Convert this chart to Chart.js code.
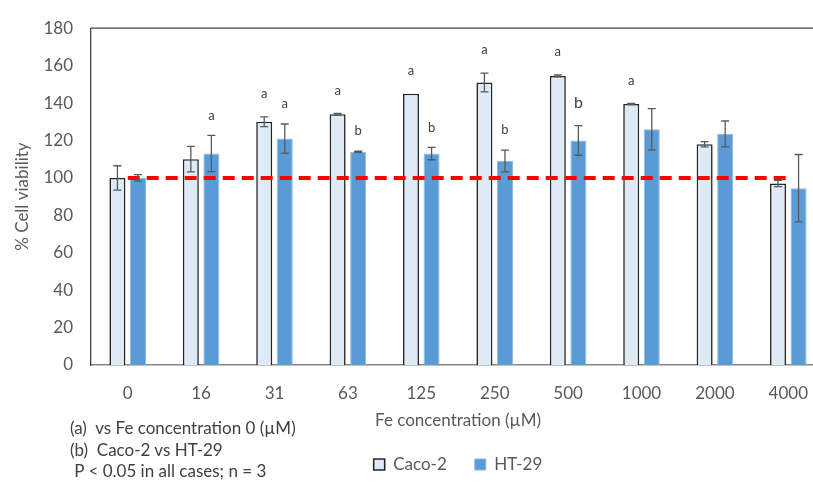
<!DOCTYPE html>
<html>
<head>
<meta charset="utf-8">
<script src="https://cdn.jsdelivr.net/npm/chart.js@4"></script>
<style>
  body { margin: 0; overflow: hidden; background: #fff; }
  #wrap { position: relative; width: 835px; height: 483px; }
  #notes {
    position: absolute; left: 70px; top: 417px;
    font: 17px Lato, sans-serif; color: #404040;
    line-height: 21.5px; white-space: pre;
  }
</style>
</head>
<body>
<div id="wrap">
  <canvas id="myChart" width="835" height="483"></canvas>
  <div id="notes"></div>
</div>
<script>
// Fe concentration (µM) categories
const concentrations = ["0", "16", "31", "63", "125", "250", "500", "1000", "2000", "4000"];

// % cell viability, mean and error
const caco2 = [100, 110, 130, 134, 145, 151, 154.5, 139.5, 118, 97];
const caco2Err = [6.5, 6.8, 2.6, 0.5, 0, 5, 0.5, 0.3, 1.4, 1.7];
const ht29 = [100, 113, 121, 114, 113, 109, 120, 126, 123.5, 94.5];
const ht29Err = [1.7, 9.7, 7.8, 0.3, 3.3, 5.8, 7.9, 11, 6.9, 18];

// significance letters
const caco2Letters = ["", "", "a", "a", "a", "a", "a", "a", "", ""];
const ht29Letters = ["", "a", "a", "b", "b", "b", "b", "", "", ""];

// 100% reference line
const reference = [100, 100, 100, 100, 100, 100, 100, 100, 100, 100];

const yTicks = { min: 0, max: 180, step: 20 };

const notes = [
    "(a)  vs Fe concentration 0 (µM)",
    "(b)  Caco-2 vs HT-29",
    " P < 0.05 in all cases; n = 3"
];
document.getElementById("notes").textContent = notes.join("\n");

const FONT = "Lato, sans-serif";
const errs = [caco2Err, ht29Err];
const letters = [caco2Letters, ht29Letters];

// error bars + letters on top of bars, and top frame line
const extras = {
    id: "extras",
    afterDatasetsDraw(chart) {
        const c = chart.ctx;
        const y = chart.scales.y;
        const area = chart.chartArea;
        c.save();
        c.strokeStyle = "#404040";
        c.lineWidth = 1.3;
        c.beginPath();
        c.moveTo(area.left, area.top);
        c.lineTo(area.right, area.top);
        c.stroke();

        [0, 1].forEach(di => {
            const meta = chart.getDatasetMeta(di);
            const vals = chart.data.datasets[di].data;
            meta.data.forEach((bar, i) => {
                const v = vals[i], e = errs[di][i];
                const top = y.getPixelForValue(v + e);
                const bot = y.getPixelForValue(v - e);
                if (e > 0) {
                    c.strokeStyle = "#595959";
                    c.lineWidth = 1.3;
                    c.beginPath();
                    c.moveTo(bar.x, top); c.lineTo(bar.x, bot);
                    c.moveTo(bar.x - 4, top); c.lineTo(bar.x + 4, top);
                    c.moveTo(bar.x - 4, bot); c.lineTo(bar.x + 4, bot);
                    c.stroke();
                }
                const txt = letters[di][i];
                if (txt) {
                    const big = (di === 1 && i === 6);
                    let gap = di === 0 ? 23 : 20;
                    if (big) gap = 23;
                    c.fillStyle = "#404040";
                    c.font = (big ? 16 : 13) + "px " + FONT;
                    c.textAlign = "center";
                    c.textBaseline = "middle";
                    c.fillText(txt, bar.x, top - gap);
                }
            });
        });
        c.restore();
    }
};

const ctx = document.getElementById("myChart").getContext("2d");

const chart = new Chart(ctx, {
    type: "bar",
    data: {
        labels: concentrations,
        datasets: [
            {
                label: "Caco-2",
                data: caco2,
                backgroundColor: "#DEEBF7",
                borderColor: "#262626",
                borderWidth: 1.6,
                order: 1
            },
            {
                label: "HT-29",
                data: ht29,
                backgroundColor: "#5B9BD5",
                borderColor: "#8AB8E3",
                borderWidth: 1,
                order: 1
            },
            {
                type: "line",
                label: "ref",
                data: reference,
                borderColor: "#FF0000",
                borderWidth: 4,
                borderDash: [12, 7],
                pointRadius: 0,
                fill: false,
                order: 0
            }
        ]
    },
    options: {
        responsive: false,
        animation: false,
        categoryPercentage: 0.56,
        barPercentage: 0.78,
        layout: { padding: { top: 17, right: 10, bottom: 0, left: 0 } },
        plugins: {
            legend: {
                position: "bottom",
                fullSize: false,
                labels: {
                    font: { family: FONT, size: 17 },
                    color: "#595959",
                    boxWidth: 11,
                    boxHeight: 11,
                    padding: 28,
                    filter: item => item.text !== "ref"
                }
            },
            tooltip: { enabled: false }
        },
        scales: {
            x: {
                grid: { display: false, drawTicks: false },
                border: { display: true, color: "#868686", width: 1.5 },
                ticks: { font: { family: FONT, size: 17 }, color: "#595959", padding: 18 },
                title: {
                    display: true,
                    text: "Fe concentration (µM)",
                    font: { family: FONT, size: 17 },
                    color: "#595959",
                    padding: { top: 0, bottom: -3 }
                },
                afterFit(scale) { scale.height = 63; }
            },
            y: {
                min: yTicks.min,
                max: yTicks.max,
                grid: { display: false, drawTicks: false },
                border: { display: true, color: "#404040", width: 1.3 },
                ticks: {
                    stepSize: yTicks.step,
                    font: { family: FONT, size: 17 },
                    color: "#595959",
                    padding: 18
                },
                title: {
                    display: true,
                    text: "% Cell viability",
                    font: { family: FONT, size: 17 },
                    color: "#595959",
                    padding: { top: 12, bottom: 0 }
                },
                afterFit(scale) { scale.width = 91; }
            }
        }
    },
    plugins: [extras]
});
</script>
</body>
</html>
